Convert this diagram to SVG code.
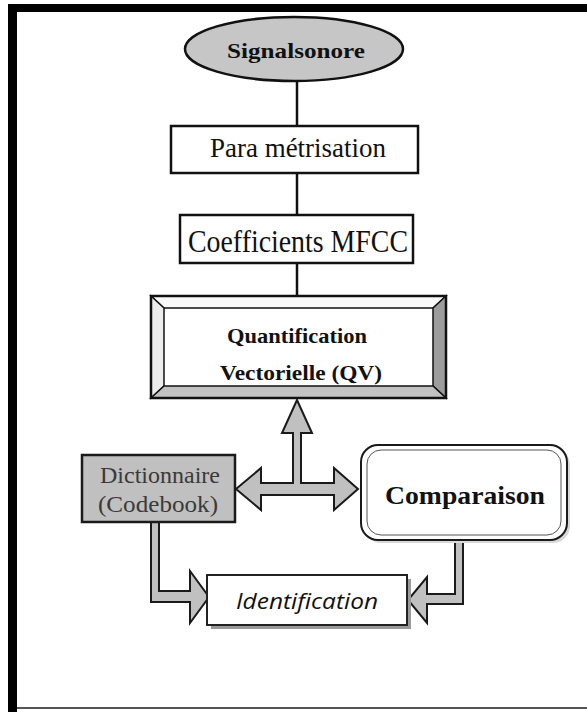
<svg xmlns="http://www.w3.org/2000/svg" width="587" height="712" viewBox="0 0 587 712">
<style>
.serif{font-family:"Liberation Serif","Times New Roman",serif;fill:#111}
.b{font-weight:bold}
.box{fill:#fff;stroke:#111;stroke-width:2.5}
.conn{stroke:#111;stroke-width:2.5;fill:none}
.blk{fill:#c0c0c0;stroke:#1a1a1a;stroke-width:2;stroke-linejoin:miter}
</style>
<rect width="587" height="712" fill="#fff"/>
<g id="frame">
<rect x="8" y="4" width="579" height="8" fill="#000"/>
<rect x="8" y="4" width="9" height="708" fill="#000"/>
<rect x="17" y="707" width="570" height="2" fill="#555"/>
</g>
<g id="connectors">
<line class="conn" x1="297" y1="81" x2="297" y2="126"/>
<line class="conn" x1="297" y1="173" x2="297" y2="215"/>
<line class="conn" x1="297" y1="263" x2="297" y2="296"/>
<polygon class="blk" points="297,400 312,433 301,433 301,483 334,483 334,468 358,489 334,510 334,495 261,495 261,510 236,489 261,468 261,483 293,483 293,433 282,433"/>
<polygon class="blk" points="151,522 159,522 159,591 190,591 190,571 209,597 190,623 190,602 151,602"/>
<polygon class="blk" points="463,538 463,604 427,604 427,623 408,600 427,577 427,594 455,594 455,538"/>
</g>
<g id="signal">
<ellipse cx="294" cy="49" rx="109" ry="32" fill="#c6c6c6" stroke="#111" stroke-width="2.5"/>
<text class="serif b" x="296" y="58" font-size="22" text-anchor="middle" textLength="138" lengthAdjust="spacingAndGlyphs">Signalsonore</text>
</g>
<g id="parametrisation">
<rect class="box" x="171" y="126" width="247" height="47"/>
<text class="serif" x="298" y="157" font-size="28" text-anchor="middle" textLength="176" lengthAdjust="spacingAndGlyphs">Para métrisation</text>
</g>
<g id="mfcc">
<rect class="box" x="180" y="215" width="233" height="48"/>
<text class="serif" x="298" y="252" font-size="31" text-anchor="middle" textLength="220" lengthAdjust="spacingAndGlyphs">Coefficients MFCC</text>
</g>
<g id="qv">
<rect x="151" y="296" width="295" height="102" fill="#fff"/>
<polygon points="151,296 446,296 433,308 164,308" fill="#fafafa" stroke="#111" stroke-width="1.5"/>
<polygon points="151,296 164,308 164,386 151,398" fill="#ececec" stroke="#111" stroke-width="1.5"/>
<polygon points="446,296 433,308 433,386 446,398" fill="#9c9c9c" stroke="#111" stroke-width="1.5"/>
<polygon points="151,398 164,386 433,386 446,398" fill="#c2c2c2" stroke="#111" stroke-width="1.5"/>
<rect x="151" y="296" width="295" height="102" fill="none" stroke="#111" stroke-width="2.5"/>
<text class="serif b" x="297" y="343" font-size="22" text-anchor="middle" fill="#222" textLength="140" lengthAdjust="spacingAndGlyphs">Quantification</text>
<text class="serif b" x="301" y="380" font-size="21" text-anchor="middle" fill="#222" textLength="162" lengthAdjust="spacingAndGlyphs">Vectorielle (QV)</text>
</g>
<g id="dictionnaire">
<rect x="82" y="455" width="153" height="67" fill="#c0c0c0" stroke="#1a1a1a" stroke-width="2.5"/>
<text class="serif" x="160" y="483" font-size="23" text-anchor="middle" style="fill:#3a3a3a" textLength="120" lengthAdjust="spacingAndGlyphs">Dictionnaire</text>
<text class="serif" x="158" y="512" font-size="23" text-anchor="middle" style="fill:#3a3a3a" textLength="120" lengthAdjust="spacingAndGlyphs">(Codebook)</text>
</g>
<g id="comparaison">
<rect x="364" y="448" width="206" height="95" rx="17" fill="#d8d8d8"/>
<rect x="361" y="445" width="206" height="95" rx="17" fill="#fff" stroke="#1a1a1a" stroke-width="2"/>
<rect x="367" y="450" width="194" height="85" rx="14" fill="none" stroke="#555" stroke-width="1"/>
<text class="serif b" x="465" y="504" font-size="26" text-anchor="middle" textLength="160" lengthAdjust="spacingAndGlyphs">Comparaison</text>
</g>
<g id="identification">
<rect x="211" y="579" width="200" height="50" fill="#9a9a9a"/>
<rect x="207" y="575" width="200" height="50" fill="#fff" stroke="#222" stroke-width="2"/>
<text x="307" y="609" font-family="'Open Sans','Liberation Sans',sans-serif" font-style="italic" font-size="21" fill="#111" text-anchor="middle" textLength="142" lengthAdjust="spacingAndGlyphs">Identification</text>
</g>
</svg>
